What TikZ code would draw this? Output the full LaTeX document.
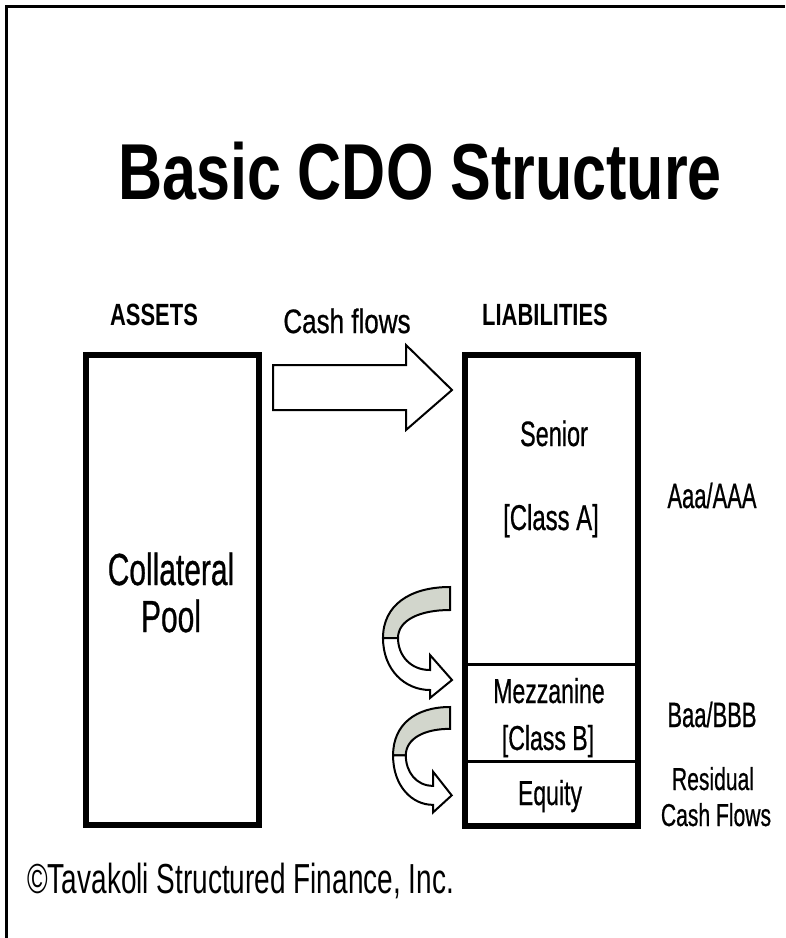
\documentclass[tikz,border=0pt]{standalone}
\usepackage{fontspec}
\setmainfont{Liberation Sans}
\newfontfamily\heavy[FakeBold=0.8]{Liberation Sans}
\usepackage{graphicx}
\definecolor{bandgray}{RGB}{210,214,204}
\newcommand{\setpx}[1]{\fontsize{#1}{#1}\selectfont}
\newcommand{\vstretch}[2][1.5]{\scalebox{1}[#1]{#2}}
\tikzset{
  lbl/.style={inner sep=0pt, anchor=base},
  thickbox/.style={draw, line width=4.27pt},
  divider/.style={draw, line width=2.13pt},
  curl/.pic={
    \filldraw[fill=bandgray, line width=1.42pt]
      (0,0) -- (0,23) .. controls (-30,23) and (-52,33) .. (-52,51)
      -- (-67,51) .. controls (-67,18) and (-40,0) .. (0,0) -- cycle;
    \filldraw[fill=white, line width=1.42pt]
      (-67,51) .. controls (-67,83) and (-45,103) .. (-20,103)
      -- (-20,111) -- (2,93) -- (-20,68) -- (-20,83)
      .. controls (-40,83) and (-52,68) .. (-52,51) -- cycle;
  }
}
\begin{document}
\begin{tikzpicture}[x=0.025cm, y=-0.025cm]
    \useasboundingbox (0,0) rectangle (785,938);
    % Frame
    \draw[line width=2.13pt] (6.5,938) -- (6.5,6.5) -- (785,6.5);

    % Heading
    \node (title) [lbl] at (420,200) {\setpx{43.4}\bfseries\vstretch[1.3]{Basic CDO Structure}};
    \node (assets) [lbl] at (154,325) {\setpx{15.6}\bfseries\vstretch[1.4]{ASSETS}};
    \node (cashlbl) [lbl] at (347,333) {\setpx{18.5}\heavy\vstretch[1.3]{Cash flows}};
    \node (liab) [lbl] at (545,325) {\setpx{15.6}\bfseries\vstretch[1.4]{LIABILITIES}};

    % Boxes
    \draw[thickbox] (86,355) rectangle (259,825);
    \draw[thickbox] (465,355) rectangle (638,826);
    \draw[divider] (465,664.5) -- (638,664.5);
    \draw[divider] (465,761.5) -- (638,761.5);

    % Cash flow arrow
    \draw[line width=1.42pt, fill=white] (273,365) -- (406,365) -- (406,345)
      -- (452,390) -- (406,430) -- (406,410) -- (273,410) -- cycle;

    % Box texts
    \node (coll) [lbl] at (171,585) {\setpx{21.3}\heavy\vstretch{Collateral}};
    \node (pool) [lbl] at (171,632) {\setpx{21.3}\heavy\vstretch{Pool}};
    \node (senior) [lbl] at (554,446) {\setpx{16.7}\heavy\vstretch{Senior}};
    \node (classa) [lbl] at (551,530) {\setpx{17}\heavy\vstretch{[Class A]}};
    \node (mezz) [lbl] at (549,703) {\setpx{16.4}\heavy\vstretch{Mezzanine}};
    \node (classb) [lbl] at (548,750) {\setpx{16.4}\heavy\vstretch{[Class B]}};
    \node (equity) [lbl] at (550,805) {\setpx{16.4}\heavy\vstretch{Equity}};

    % Ratings
    \node (aaa) [lbl] at (712,508) {\setpx{15.6}\heavy\vstretch[1.6]{Aaa/AAA}};
    \node (baa) [lbl] at (712,727) {\setpx{15.6}\heavy\vstretch[1.6]{Baa/BBB}};
    \node (resid) [lbl] at (713,790) {\setpx{15}\heavy\vstretch{Residual}};
    \node (rcash) [lbl] at (716,826) {\setpx{15}\heavy\vstretch{Cash Flows}};

    % Waterfall arrows
    \pic at (450,587) {curl};
    \pic[xscale=0.85, yscale=0.95] at (450,707) {curl};

    \node (copy) [lbl, anchor=base west] at (27,893) {\setpx{19.9}\vstretch{©Tavakoli Structured Finance, Inc.}};
\end{tikzpicture}
\end{document}
